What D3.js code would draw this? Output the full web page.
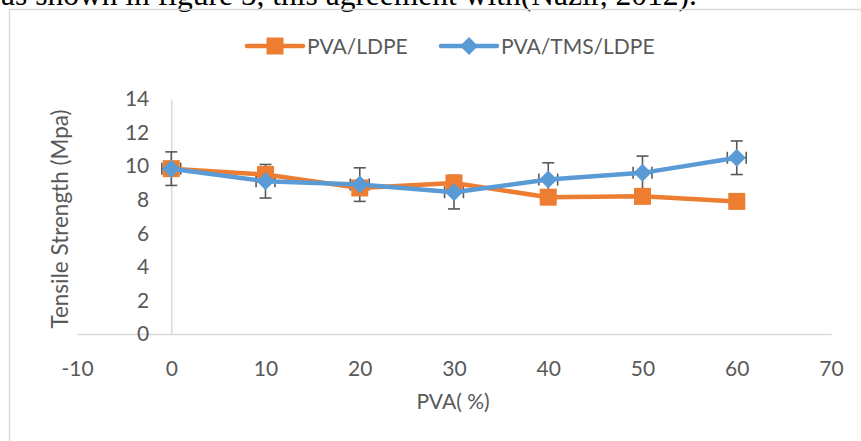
<!DOCTYPE html>
<html>
<head>
<meta charset="utf-8">
<script src="https://cdn.jsdelivr.net/npm/d3@7"></script>
<style>
  html, body { margin: 0; padding: 0; background: #ffffff; }
  svg { display: block; }
</style>
</head>
<body>
<svg id="chart" width="861" height="441"></svg>
<script>
// ---- data ----
const pvaPercent = [0, 10, 20, 30, 40, 50, 60];
const pvaLdpe = [9.85, 9.5, 8.7, 9.0, 8.15, 8.2, 7.9];
const pvaTmsLdpe = [9.85, 9.1, 8.9, 8.45, 9.2, 9.6, 10.5];
const tmsErrorY = [1, 1, 1, 1, 1, 1, 1];
const tmsErrorX = [1, 1, 1, 1, 1, 1, 1];
const xTicks = [-10, 0, 10, 20, 30, 40, 50, 60, 70];
const yTicks = [0, 2, 4, 6, 8, 10, 12, 14];
const seriesNames = ["PVA/LDPE", "PVA/TMS/LDPE"];
const xTitle = "PVA( %)";
const yTitle = "Tensile Strength (Mpa)";
const captionText = "as shown in figure 5, this agreement with(Nazir, 2012).";

const ORANGE = "#ED7D31", BLUE = "#5B9BD5", AXIS = "#D9D9D9", TEXT = "#595959", ERR = "#595959";
const FONT = "Lato, 'Liberation Sans', sans-serif";

const svg = d3.select("#chart");

// caption text from the document, cut off at the top
svg.append("text")
  .attr("x", 697).attr("y", 4.5)
  .attr("text-anchor", "end")
  .attr("font-family", "'Liberation Serif', 'Times New Roman', serif")
  .attr("font-size", 31.5)
  .attr("fill", "#000")
  .text(captionText);

// chart area border
svg.append("rect")
  .attr("x", 9.5).attr("y", 9.5)
  .attr("width", 900).attr("height", 500)
  .attr("fill", "none").attr("stroke", AXIS).attr("stroke-width", 1.5);

const x = d3.scaleLinear().domain([-10, 70]).range([77, 831]);
const y = d3.scaleLinear().domain([0, 14]).range([334, 99]);
const plainFmt = d => String(d);

// x axis (at y = 0)
const xAxis = svg.append("g")
  .attr("transform", `translate(0,${y(0)})`)
  .call(d3.axisBottom(x).tickValues(xTicks).tickSize(0).tickSizeOuter(0).tickPadding(27).tickFormat(plainFmt));
xAxis.select(".domain").attr("stroke", AXIS).attr("stroke-width", 1.5);
xAxis.selectAll("text").attr("font-family", FONT).attr("font-size", 21).attr("fill", TEXT);

// y axis (at x = 0)
const yAxis = svg.append("g")
  .attr("transform", `translate(${x(0)},0)`)
  .call(d3.axisLeft(y).tickValues(yTicks).tickSize(0).tickSizeOuter(0).tickPadding(22).tickFormat(plainFmt));
yAxis.select(".domain").attr("stroke", AXIS).attr("stroke-width", 1.5);
yAxis.selectAll("text").attr("font-family", FONT).attr("font-size", 21).attr("fill", TEXT);

// axis titles
svg.append("text")
  .attr("x", 453).attr("y", 409)
  .attr("text-anchor", "middle")
  .attr("font-family", FONT).attr("font-size", 21).attr("fill", TEXT)
  .text(xTitle);
svg.append("text")
  .attr("transform", `translate(68,219) rotate(-90)`)
  .attr("text-anchor", "middle")
  .attr("font-family", FONT).attr("font-size", 22.5).attr("fill", TEXT)
  .text(yTitle);

// error bars for PVA/TMS/LDPE (drawn behind)
const errG = svg.append("g").attr("stroke", ERR).attr("stroke-width", 1.6).attr("fill", "none");
const cap = 6;
pvaPercent.forEach((p, i) => {
  const cx = x(p), cy = y(pvaTmsLdpe[i]);
  const yTop = y(pvaTmsLdpe[i] + tmsErrorY[i]), yBot = y(pvaTmsLdpe[i] - tmsErrorY[i]);
  const xL = x(p - tmsErrorX[i]), xR = x(p + tmsErrorX[i]);
  errG.append("line").attr("x1", cx).attr("x2", cx).attr("y1", yTop).attr("y2", yBot);
  errG.append("line").attr("x1", cx - cap).attr("x2", cx + cap).attr("y1", yTop).attr("y2", yTop);
  errG.append("line").attr("x1", cx - cap).attr("x2", cx + cap).attr("y1", yBot).attr("y2", yBot);
  errG.append("line").attr("x1", xL).attr("x2", xR).attr("y1", cy).attr("y2", cy);
  errG.append("line").attr("x1", xL).attr("x2", xL).attr("y1", cy - cap).attr("y2", cy + cap);
  errG.append("line").attr("x1", xR).attr("x2", xR).attr("y1", cy - cap).attr("y2", cy + cap);
});

const line = d3.line().x(d => x(d[0])).y(d => y(d[1]));
const orangeData = pvaPercent.map((p, i) => [p, pvaLdpe[i]]);
const blueData = pvaPercent.map((p, i) => [p, pvaTmsLdpe[i]]);

const SQ = 17;   // square marker side
const DI = 9;    // diamond half-diagonal
const diamondPath = (cx, cy) => `M${cx},${cy - DI}L${cx + DI},${cy}L${cx},${cy + DI}L${cx - DI},${cy}Z`;

// orange series
svg.append("path").datum(orangeData)
  .attr("d", line).attr("fill", "none").attr("stroke", ORANGE)
  .attr("stroke-width", 4.5).attr("stroke-linejoin", "round").attr("stroke-linecap", "round");
svg.append("g").selectAll("rect").data(orangeData).join("rect")
  .attr("x", d => x(d[0]) - SQ / 2).attr("y", d => y(d[1]) - SQ / 2)
  .attr("width", SQ).attr("height", SQ).attr("fill", ORANGE);

// blue series
svg.append("path").datum(blueData)
  .attr("d", line).attr("fill", "none").attr("stroke", BLUE)
  .attr("stroke-width", 4.5).attr("stroke-linejoin", "round").attr("stroke-linecap", "round");
svg.append("g").selectAll("path").data(blueData).join("path")
  .attr("d", d => diamondPath(x(d[0]), y(d[1]))).attr("fill", BLUE);

// legend
const legend = svg.append("g");
const legItems = [
  { name: seriesNames[0], color: ORANGE, x0: 247, marker: "square" },
  { name: seriesNames[1], color: BLUE, x0: 441, marker: "diamond" }
];
const ly = 46;
legItems.forEach(it => {
  legend.append("line")
    .attr("x1", it.x0).attr("x2", it.x0 + 56).attr("y1", ly).attr("y2", ly)
    .attr("stroke", it.color).attr("stroke-width", 4.5).attr("stroke-linecap", "round");
  const mx = it.x0 + 28;
  if (it.marker === "square") {
    legend.append("rect").attr("x", mx - SQ / 2).attr("y", ly - SQ / 2)
      .attr("width", SQ).attr("height", SQ).attr("fill", it.color);
  } else {
    legend.append("path").attr("d", diamondPath(mx, ly)).attr("fill", it.color);
  }
  legend.append("text")
    .attr("x", it.x0 + 60).attr("y", ly + 7.5)
    .attr("font-family", FONT).attr("font-size", 21).attr("fill", TEXT)
    .text(it.name);
});
</script>
</body>
</html>
